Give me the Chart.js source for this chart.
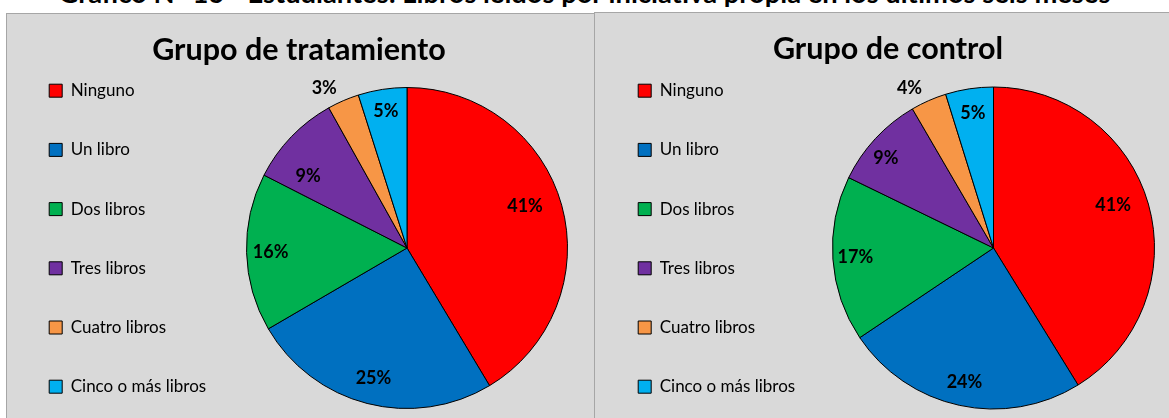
<!DOCTYPE html>
<html>
<head>
<meta charset="utf-8">
<script src="https://cdn.jsdelivr.net/npm/chart.js@4/dist/chart.umd.min.js"></script>
<style>
  html, body { margin: 0; padding: 0; background: #fff; }
  body { width: 1169px; height: 418px; overflow: hidden; position: relative; font-family: Lato, "Open Sans", sans-serif; }
  .header { position: absolute; left: 0; width: 1169px; top: -21px; line-height: 27px; text-align: center; font-weight: bold; font-size: 27.3px; color: #000; white-space: nowrap; }
  .panel { position: absolute; background: #d9d9d9; border: 1px solid #a6a6a6; overflow: hidden; }
  .panel canvas { position: absolute; }
  .ptitle { position: absolute; top: 16px; text-align: center; font-weight: bold; font-size: 30.5px; color: #000; white-space: nowrap; }
</style>
</head>
<body>
<div class="header">Gráfico N° 16 - Estudiantes: Libros leídos por iniciativa propia en los últimos seis meses</div>

<div class="panel" style="left:6px; top:13px; width:590px; height:420px;">
  <div style="position:absolute; left:0; top:0; width:590px; height:442px;"><canvas id="trat"></canvas></div>
  <div class="ptitle" style="left:0; width:584px;">Grupo de tratamiento</div>
</div>
<div class="panel" style="left:594px; top:12px; width:580px; height:420px;">
  <div style="position:absolute; left:1px; top:1px; width:573px; height:442px;"><canvas id="ctrl"></canvas></div>
  <div class="ptitle" style="left:10px; width:566px;">Grupo de control</div>
</div>

<script>
const categories = ["Ninguno", "Un libro", "Dos libros", "Tres libros", "Cuatro libros", "Cinco o más libros"]
const tratamiento = [41.4, 25.2, 15.9, 9.4, 3.2, 4.9]
const control = [41.2, 24.4, 16.6, 9.4, 3.6, 4.8]
const colors = ["#ff0000", "#0070c0", "#00b050", "#7030a0", "#f79646", "#00b0f0"]

// legend column gets a fixed width so the pie lands where it should
const fixedLegend = {
  id: "fixedLegend",
  beforeLayout(chart, args, opts) {
    const legend = chart.legend
    if (!legend || legend._fixed) return
    const fit = legend.fit
    legend.fit = function () {
      fit.call(this)
      this.width = opts.width
    }
    legend._fixed = true
  }
}

const sliceLabels = {
  id: "sliceLabels",
  afterDatasetsDraw(chart, args, opts) {
    const ctx = chart.ctx
    const meta = chart.getDatasetMeta(0)
    const values = chart.data.datasets[0].data
    ctx.save()
    ctx.font = "bold 18px Lato, sans-serif"
    ctx.fillStyle = "#000"
    ctx.textAlign = "center"
    ctx.textBaseline = "middle"
    meta.data.forEach((arc, i) => {
      const p = arc.getProps(["x", "y", "startAngle", "endAngle", "outerRadius"], true)
      const mid = (p.startAngle + p.endAngle) / 2 + (opts.shift[i] || 0) * Math.PI / 180
      const r = p.outerRadius * opts.radial[i]
      ctx.fillText(Math.round(values[i]) + "%", p.x + Math.cos(mid) * r, p.y + Math.sin(mid) * r)
    })
    ctx.restore()
  }
}

function makePie(id, values, legendWidth, padRight, radial, shift) {
  return new Chart(document.getElementById(id), {
    type: "pie",
    data: {
      labels: categories,
      datasets: [{
        data: values,
        backgroundColor: colors,
        borderColor: "#000",
        borderWidth: 1,
        hoverOffset: 0
      }]
    },
    options: {
      responsive: true,
      maintainAspectRatio: false,
      animation: false,
      layout: { padding: { left: 0, right: padRight, top: 26, bottom: 0 } },
      plugins: {
        title: { display: false },
        tooltip: { enabled: false },
        legend: {
          position: "left",
          align: "start",
          labels: {
            boxWidth: 13,
            boxHeight: 13,
            padding: 42.2,
            color: "#000",
            font: { family: "Lato, sans-serif", size: 17 }
          }
        },
        fixedLegend: { width: legendWidth },
        sliceLabels: { radial: radial, shift: shift }
      }
    },
    plugins: [fixedLegend, sliceLabels]
  })
}

makePie("trat", tratamiento, 239, 29, [0.78, 0.84, 0.85, 0.76, 1.12, 0.86], [-4, 0, 0, -8, -4, 0])
makePie("ctrl", control, 236, 14, [0.79, 0.85, 0.86, 0.87, 1.12, 0.85], [-4, 0, 0, -3, -4, 0])
</script>
</body>
</html>
